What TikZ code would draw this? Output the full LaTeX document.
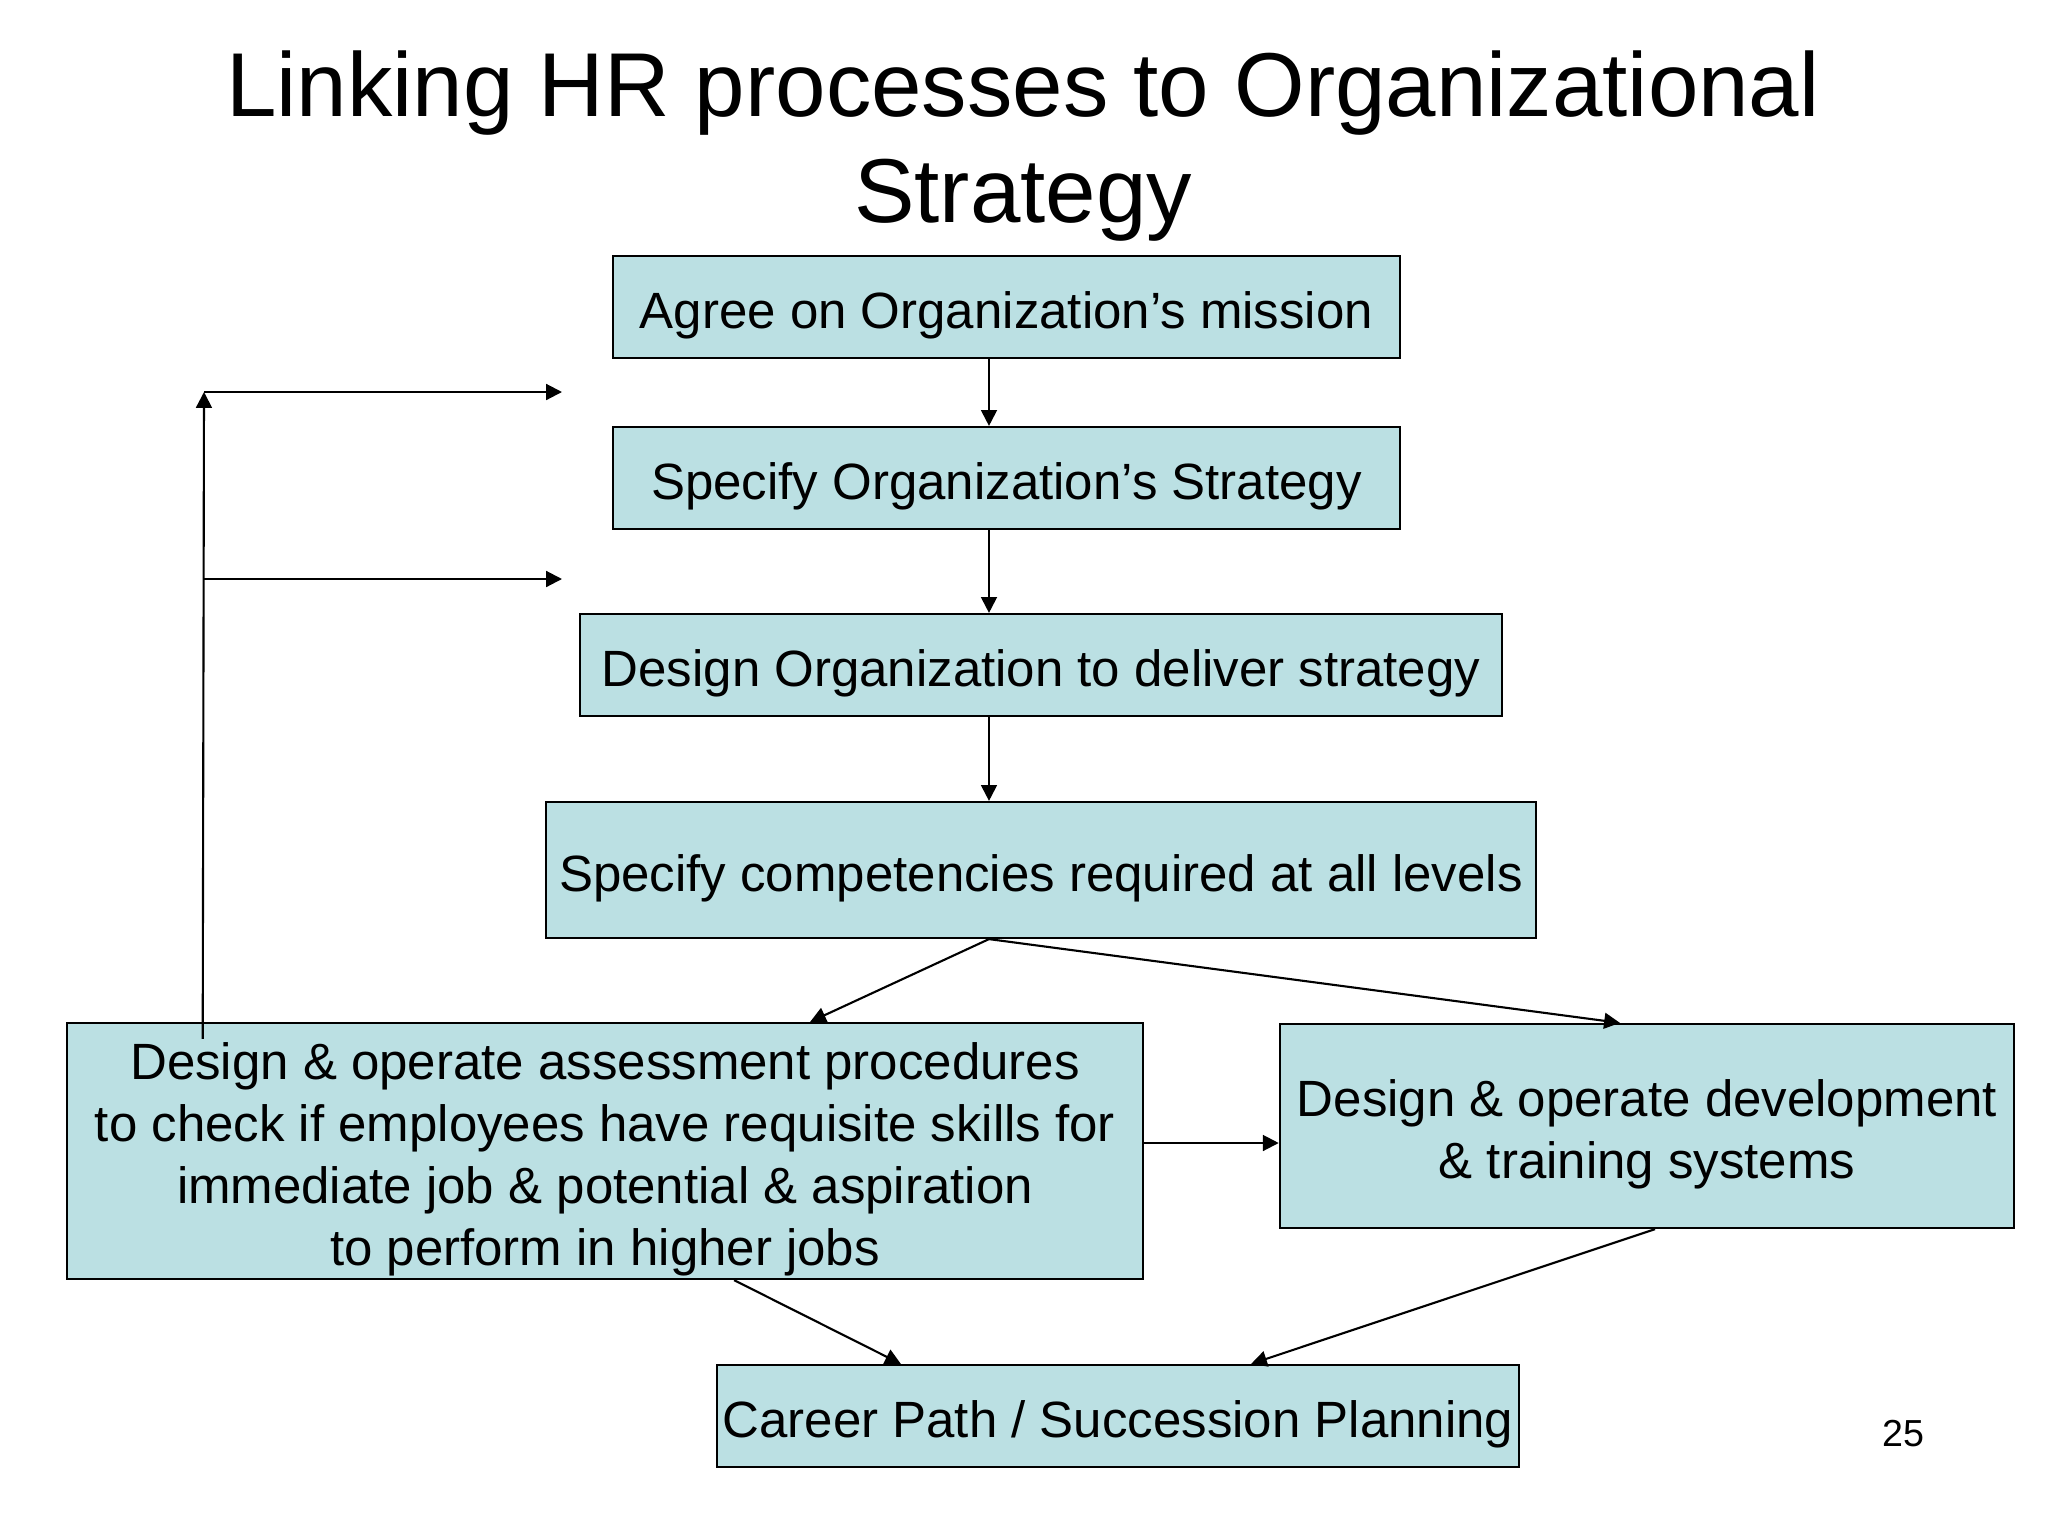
\documentclass[tikz,border=0pt]{standalone}
\usepackage{fontspec}
\setmainfont{Liberation Sans}
\usetikzlibrary{arrows.meta,positioning}
\definecolor{boxblue}{RGB}{187,224,227}
\newcommand\hrstrut{\rule{0pt}{15.2pt}}
\tikzset{hr box/.style={rectangle,draw=black,fill=boxblue,line width=0.6pt,inner sep=0pt,align=center,font=\fontsize{14.5}{17.6}\selectfont,execute at begin node=\hrstrut},
         flow/.style={-{Triangle[length=4.5pt,width=4.5pt]},line width=0.6pt},
         slide title/.style={align=center,font=\fontsize{25.8}{30.4}\selectfont},
         page no/.style={font=\fontsize{10.7}{12}\selectfont},
}
\begin{document}
\begin{tikzpicture}[x=0.01cm,y=-0.01cm]
\useasboundingbox (0,0) rectangle (2048,1536);
\node[slide title] (title) at (1023,146) {Linking HR processes to Organizational\\Strategy};
\node[hr box,minimum width=7.87cm,minimum height=1.02cm] (mission) at (1006.5,307) {Agree on Organization’s mission};
\node[hr box,minimum width=7.87cm,minimum height=1.02cm] (strategy) at (1006.5,478) {Specify Organization’s Strategy};
\node[hr box,minimum width=9.22cm,minimum height=1.02cm] (design) at (1041,665) {Design Organization to deliver strategy};
\node[hr box,minimum width=9.90cm,minimum height=1.36cm] (compet) at (1041,870) {Specify competencies required at all levels};
\node[hr box,minimum width=10.76cm,minimum height=2.56cm] (assess) at (605,1151) {\hrstrut Design \& operate assessment procedures\\to check if employees have requisite skills for\\immediate job \& potential \& aspiration\\to perform in higher jobs};
\node[hr box,minimum width=7.34cm,minimum height=2.04cm] (develop) at (1647,1126) {\hrstrut Design \& operate development\\\& training systems};
\node[hr box,minimum width=8.02cm,minimum height=1.02cm] (career) at (1118,1416) {Career Path / Succession Planning};
\node[page no] (pageno) at (1903,1434) {25};
% main chain
\coordinate (spine) at (989,0);
\draw[flow] (mission.south -| spine) -- (strategy.north -| spine);
\draw[flow] (strategy.south -| spine) -- (design.north -| spine);
\draw[flow] (design.south -| spine) -- (compet.north -| spine);
\draw[flow] (compet.south -| spine) -- ([xshift=2.05cm]assess.north);
\draw[flow] (compet.south -| spine) -- ([xshift=-0.27cm]develop.north);
\draw[flow] ([yshift=0.08cm]assess.east) -- ([yshift=0.08cm]assess.east -| develop.west);
\draw[flow] ([xshift=1.29cm]assess.south) -- ([xshift=-2.17cm]career.north);
\draw[flow] ([xshift=0.08cm]develop.south) -- ([xshift=1.33cm]career.north);
% feedback loop
\coordinate (loop top) at (204,392);
\coordinate (loop mid) at (204,579);
\draw[flow] ([xshift=1.37cm,yshift=-0.17cm]assess.north west) -- (loop top);
\draw[flow] (loop top) -- ++(358,0);
\draw[flow] (loop mid) -- ++(358,0);
\end{tikzpicture}
\end{document}
